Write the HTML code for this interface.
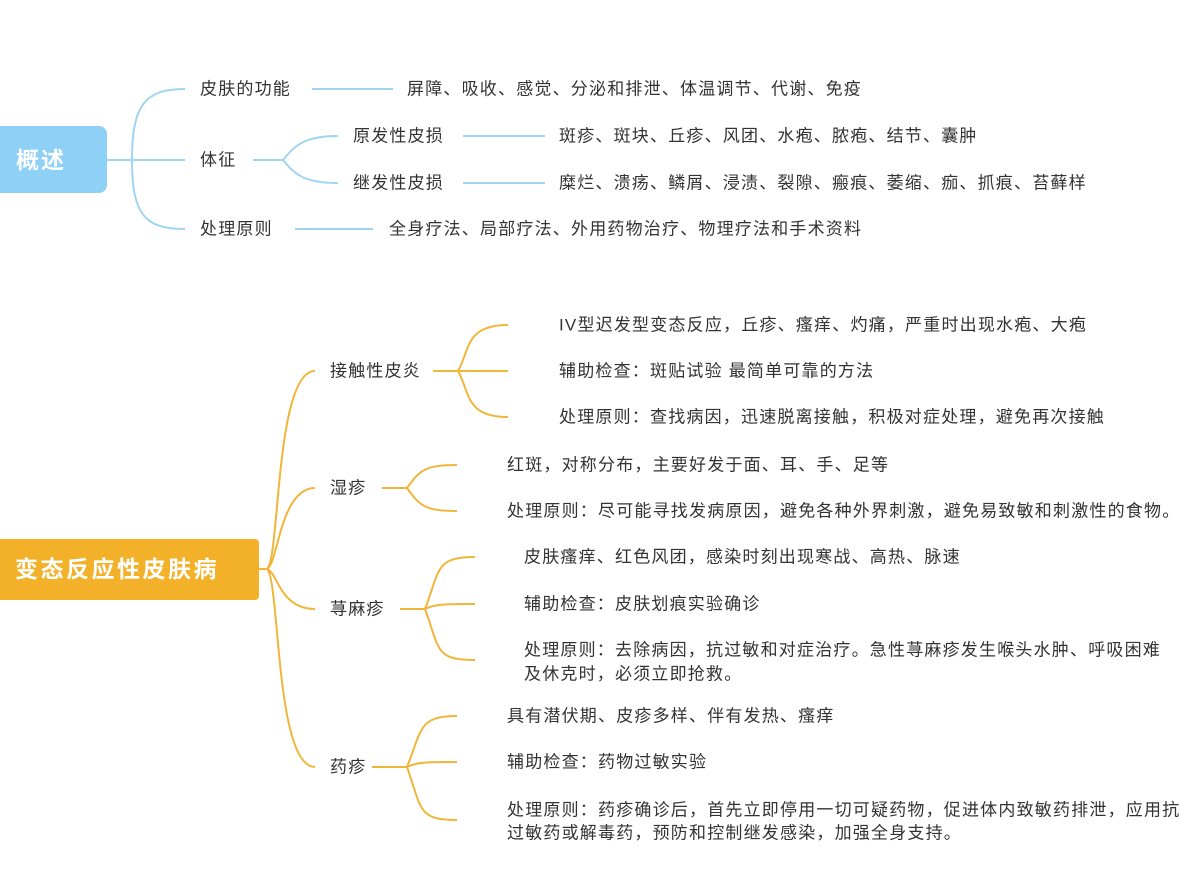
<!DOCTYPE html>
<html><head><meta charset="utf-8"><style>
html,body{margin:0;padding:0;background:#fff;}
svg{display:block}
text{font-family:"Liberation Sans","Noto Sans CJK SC",sans-serif;font-size:17px;letter-spacing:1.2px;fill:#333;dominant-baseline:central}
.b{fill:none;stroke:#9fd4f2;stroke-width:2}
.o{fill:none;stroke:#f0b63a;stroke-width:2}
</style></head><body>
<svg width="1193" height="890" viewBox="0 0 1193 890">
<rect x="-10" y="126" width="117" height="67" rx="8" fill="#8fd0f7"/>
<text x="16" y="160" style="fill:#fff;font-size:23px;font-weight:bold;letter-spacing:2px">概述</text>
<path class="b" d="M107 160H185M132 160C132 105 145 89 185 89M132 160C132 215 145 229 185 229"/>
<text x="200" y="89">皮肤的功能</text>
<path class="b" d="M312 89H393"/>
<text x="407" y="89">屏障、吸收、感觉、分泌和排泄、体温调节、代谢、免疫</text>
<text x="200" y="160">体征</text>
<path class="b" d="M253 160H283M283 160C295 145 305 136 338 136M283 160C295 175 305 183 338 183"/>
<text x="353" y="136">原发性皮损</text>
<text x="353" y="183">继发性皮损</text>
<path class="b" d="M463 136H545M463 183H545"/>
<text x="559" y="136">斑疹、斑块、丘疹、风团、水疱、脓疱、结节、囊肿</text>
<text x="559" y="183">糜烂、溃疡、鳞屑、浸渍、裂隙、瘢痕、萎缩、痂、抓痕、苔藓样</text>
<text x="200" y="229">处理原则</text>
<path class="b" d="M295 229H373"/>
<text x="389" y="229">全身疗法、局部疗法、外用药物治疗、物理疗法和手术资料</text>

<rect x="-10" y="539" width="269" height="61" rx="4" fill="#f2b128"/>
<text x="15" y="569" style="fill:#fff;font-size:23px;font-weight:bold;letter-spacing:2.5px">变态反应性皮肤病</text>
<path class="o" d="M259 569H267M267 569C280 560 275 371 315 371M267 569C278 565 280 488 315 488M267 569C278 573 280 609 315 609M267 569C280 580 275 767 315 767"/>
<text x="330" y="371">接触性皮炎</text>
<path class="o" d="M433 371H508M458 371C470 350 465 325 508 325M458 371C470 392 465 417 508 417"/>
<text x="559" y="325">IV型迟发型变态反应，丘疹、瘙痒、灼痛，严重时出现水疱、大疱</text>
<text x="559" y="371">辅助检查：斑贴试验 最简单可靠的方法</text>
<text x="559" y="417">处理原则：查找病因，迅速脱离接触，积极对症处理，避免再次接触</text>
<text x="330" y="488">湿疹</text>
<path class="o" d="M382 488H407M407 488C420 470 425 465 457 465M407 488C420 506 425 511 457 511"/>
<text x="507" y="465">红斑，对称分布，主要好发于面、耳、手、足等</text>
<text x="507" y="511">处理原则：尽可能寻找发病原因，避免各种外界刺激，避免易致敏和刺激性的食物。</text>
<text x="330" y="609">荨麻疹</text>
<path class="o" d="M400 609H425M425 609C440 570 435 557 475 557M425 609C435 604 445 604 475 604M425 609C440 650 435 660 475 660"/>
<text x="524" y="557">皮肤瘙痒、红色风团，感染时刻出现寒战、高热、脉速</text>
<text x="524" y="604">辅助检查：皮肤划痕实验确诊</text>
<text x="524" y="650">处理原则：去除病因，抗过敏和对症治疗。急性荨麻疹发生喉头水肿、呼吸困难</text>
<text x="524" y="674">及休克时，必须立即抢救。</text>
<text x="330" y="767">药疹</text>
<path class="o" d="M372 767H407M407 767C422 730 418 716 457 716M407 767C417 762 427 762 457 762M407 767C422 810 418 820 457 820"/>
<text x="507" y="716">具有潜伏期、皮疹多样、伴有发热、瘙痒</text>
<text x="507" y="762">辅助检查：药物过敏实验</text>
<text x="507" y="810">处理原则：药疹确诊后，首先立即停用一切可疑药物，促进体内致敏药排泄，应用抗</text>
<text x="507" y="833">过敏药或解毒药，预防和控制继发感染，加强全身支持。</text>
</svg>
</body></html>
